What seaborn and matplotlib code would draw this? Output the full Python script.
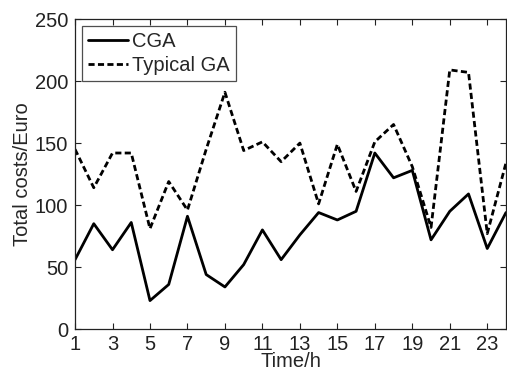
import numpy as np
import pandas as pd
import matplotlib
matplotlib.use("Agg")
import matplotlib.pyplot as plt
import seaborn as sns

# hourly data
hours = list(range(1, 25))
cga = [56, 85, 64, 86, 23, 36, 91, 44, 34, 52, 80, 56,
       76, 94, 88, 95, 142, 122, 128, 72, 95, 109, 65, 94]
typical_ga = [145, 114, 142, 142, 81, 119, 96, 145, 191, 144, 151, 135,
              150, 101, 149, 111, 151, 165, 131, 82, 209, 207, 77, 134]
x_ticks = [1, 3, 5, 7, 9, 11, 13, 15, 17, 19, 21, 23]
y_ticks = [0, 50, 100, 150, 200, 250]

df = pd.DataFrame({
    'Time': hours * 2,
    'Cost': cga + typical_ga,
    'Method': ['CGA'] * 24 + ['Typical GA'] * 24,
})

FS = 14.5

sns.set_style("ticks")
plt.rcParams['font.family'] = ['Liberation Sans', 'DejaVu Sans']
plt.rcParams['font.size'] = FS

fig = plt.figure(figsize=(5.07, 3.74), dpi=100)
ax = fig.add_axes([0.148, 0.12, 0.85, 0.829])

sns.lineplot(data=df, x='Time', y='Cost', style='Method',
             dashes={'CGA': '', 'Typical GA': (2.2, 1.2)},
             color='black', linewidth=2.0, ax=ax)

ax.set_xlim(1, 24)
ax.set_ylim(0, 250)
ax.set_xticks(x_ticks)
ax.set_yticks(y_ticks)
ax.tick_params(direction='in', top=True, right=True, length=4,
               labelsize=FS, colors='#222222')
ax.tick_params(axis='y', pad=5)
ax.tick_params(axis='x', pad=4)
for s in ax.spines.values():
    s.set_visible(True)
    s.set_linewidth(0.9)
    s.set_color('#222222')

ax.set_xlabel('Time/h', fontsize=FS, labelpad=-1)
ax.set_ylabel('Total costs/Euro', fontsize=FS, labelpad=2)

leg = ax.legend(loc='upper left', fontsize=FS, frameon=True, fancybox=False,
                edgecolor='#222222', handlelength=2.0, handletextpad=0.2,
                borderpad=0.3, labelspacing=0.25,
                bbox_to_anchor=(0.0, 1.0), borderaxespad=0.35)
leg.get_frame().set_linewidth(0.9)
leg.set_title(None)

fig.savefig('out.png', dpi=100)
